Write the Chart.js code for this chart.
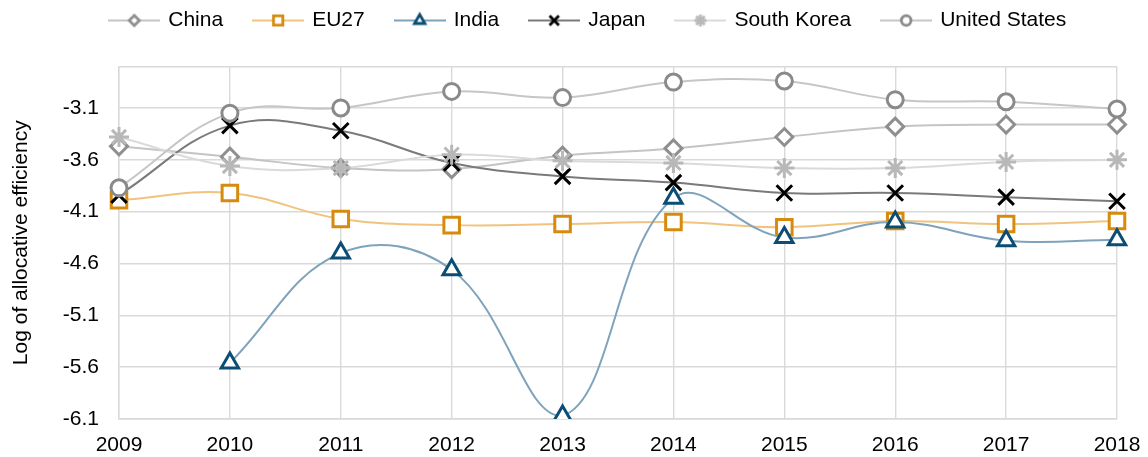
<!DOCTYPE html>
<html>
<head>
<meta charset="utf-8">
<script src="https://cdn.jsdelivr.net/npm/chart.js@4.4.0/dist/chart.umd.min.js"></script>
<style>
  html, body { margin: 0; padding: 0; background: #fff; }
  #wrap { width: 1148px; height: 457px; }
</style>
</head>
<body>
<div id="wrap"><canvas id="chart"></canvas></div>
<script>
const years = ["2009", "2010", "2011", "2012", "2013", "2014", "2015", "2016", "2017", "2018"];
const china = [-3.47, -3.57, -3.68, -3.69, -3.56, -3.49, -3.38, -3.28, -3.26, -3.26];
const eu27 = [-3.99, -3.92, -4.17, -4.23, -4.22, -4.20, -4.25, -4.19, -4.22, -4.19];
const india = [null, -5.56, -4.50, -4.66, -6.07, -3.97, -4.35, -4.20, -4.38, -4.37];
const japan = [-3.94, -3.27, -3.32, -3.63, -3.76, -3.82, -3.92, -3.92, -3.96, -4.00];
const southKorea = [-3.38, -3.66, -3.68, -3.55, -3.61, -3.63, -3.68, -3.68, -3.62, -3.60];
const unitedStates = [-3.87, -3.15, -3.10, -2.94, -3.00, -2.85, -2.84, -3.02, -3.04, -3.11];
const yTicks = [-6.1, -5.6, -5.1, -4.6, -4.1, -3.6, -3.1];
const yMin = -6.1;
const yMax = -2.7;

Chart.defaults.font.family = "'Liberation Sans', Arial, sans-serif";
Chart.defaults.font.size = 21;
Chart.defaults.color = "#000";

function makeSet(label, data, lineColor, markColor, style, radius, order) {
  return {
    label: label,
    data: data,
    borderColor: lineColor,
    borderWidth: 2,
    tension: 0.4,
    pointStyle: style,
    pointRadius: radius,
    pointHoverRadius: radius,
    pointBorderColor: markColor,
    pointBackgroundColor: "#fff",
    pointBorderWidth: 3,
    order: order
  };
}

const datasets = [
  makeSet("China", china, "#c4c4c4", "#8f8f8f", "rectRot", 8.5, 6),
  makeSet("EU27", eu27, "#f0c47e", "#d68a0e", "rect", 11, 5),
  makeSet("India", india, "#7fa3bc", "#0b4d75", "triangle", 10, 4),
  makeSet("Japan", japan, "#7a7a7a", "#000", "crossRot", 11, 3),
  makeSet("South Korea", southKorea, "#dadada", "#b8b8b8", "star", 10, 2),
  makeSet("United States", unitedStates, "#c6c6c6", "#8a8a8a", "circle", 8, 1)
];

// little line + marker picture for each legend entry
function legendIcon(ds) {
  const c = document.createElement("canvas");
  c.width = 52;
  c.height = 22;
  const g = c.getContext("2d");
  g.strokeStyle = ds.borderColor;
  g.lineWidth = 2;
  g.beginPath();
  g.moveTo(0, 11);
  g.lineTo(52, 11);
  g.stroke();
  g.strokeStyle = ds.pointBorderColor;
  g.fillStyle = "#fff";
  g.lineWidth = 2.8;
  Chart.helpers.drawPoint(g, { pointStyle: ds.pointStyle, radius: ds.pointRadius * 0.6, borderWidth: 2.8, rotation: 0 }, 26, 11);
  return c;
}

const legendShift = {
  id: "legendShift",
  afterLayout(chart) {
    const lg = chart.legend;
    lg.left += 30; lg.right += 30;
    lg.top -= 25.5; lg.bottom -= 25.5;
  }
};

new Chart(document.getElementById("chart"), {
  type: "line",
  data: { labels: years, datasets: datasets },
  plugins: [legendShift],
  options: {
    responsive: true,
    maintainAspectRatio: false,
    animation: false,
    layout: { padding: { top: 4, right: 31, bottom: 0, left: 0 } },
    plugins: {
      tooltip: { enabled: false },
      legend: {
        position: "top",
        labels: {
          usePointStyle: true,
          pointStyleWidth: 47,
          padding: 31.5,
          font: { size: 21 },
          generateLabels(chart) {
            return chart.data.datasets.map((ds, i) => ({
              text: ds.label,
              pointStyle: legendIcon(ds),
              datasetIndex: i,
              hidden: false,
              fontColor: "#000",
              lineWidth: 0
            }));
          }
        }
      }
    },
    scales: {
      x: {
        type: "category",
        offset: false,
        grid: { color: "#d9d9d9", lineWidth: 1.4, drawTicks: false },
        border: { color: "#d9d9d9", width: 1.4 },
        ticks: { padding: 14, maxRotation: 0, autoSkip: false },
        afterFit(scale) {
          scale.height = 38;
          scale.paddingLeft = 0;
          scale.paddingRight = 0;
        }
      },
      y: {
        min: yMin,
        max: yMax,
        grid: { color: "#d9d9d9", lineWidth: 1.4, drawTicks: false },
        border: { color: "#d9d9d9", width: 1.4 },
        ticks: {
          padding: 20,
          callback: (v) => yTicks.includes(v) ? v.toFixed(1) : ""
        },
        afterBuildTicks(scale) {
          scale.ticks = yTicks.concat([yMax]).map(v => ({ value: v }));
        },
        afterFit(scale) { scale.width = 119; },
        title: {
          display: true,
          text: "Log of allocative efficiency",
          font: { size: 21 },
          padding: { top: 9, bottom: 0 }
        }
      }
    }
  }
});
</script>
</body>
</html>
